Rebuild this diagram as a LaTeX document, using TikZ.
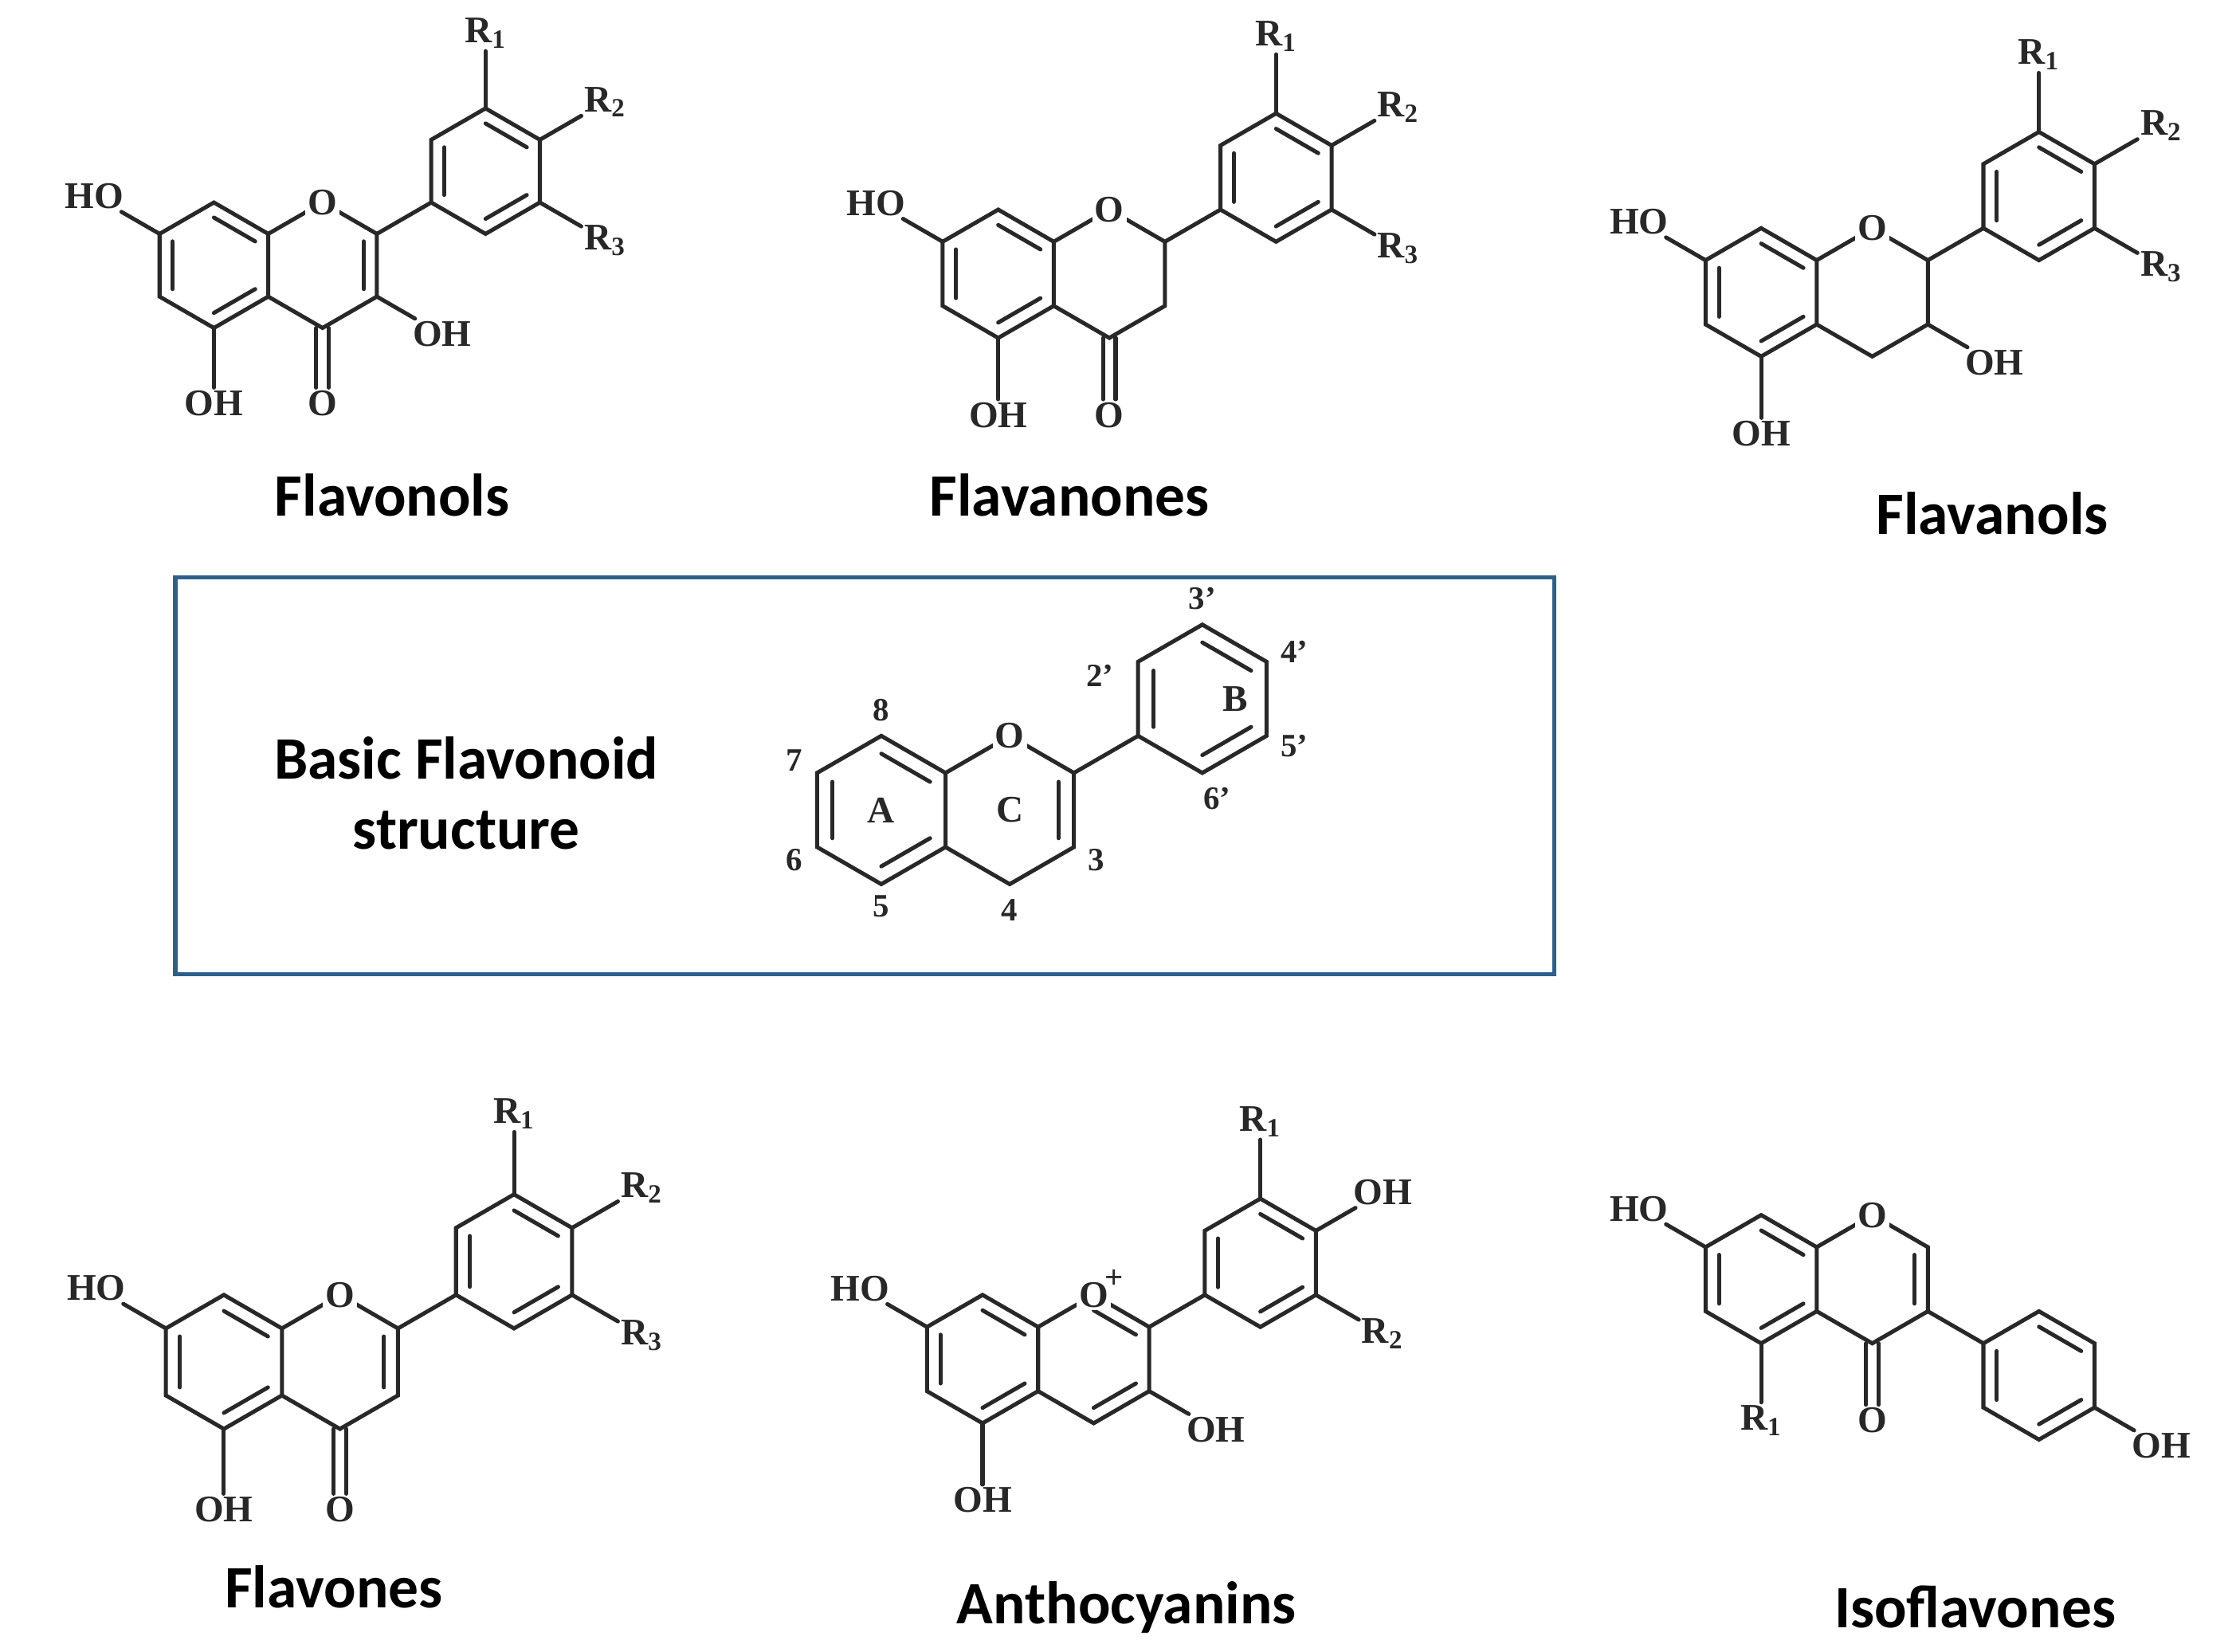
\documentclass[tikz,border=0pt]{standalone}
\usepackage{fontspec}
\setmainfont{Liberation Serif}
\newfontfamily\titlef{Carlito}
\usetikzlibrary{calc}
\definecolor{boxc}{RGB}{46,95,140}
\definecolor{ink}{RGB}{40,40,40}
\tikzset{
  bond/.style={line width=1.6pt, line cap=round, draw=ink},
  atom/.style={font=\fontsize{15}{17}\selectfont\bfseries, text=ink, inner sep=1pt},
  num/.style={font=\fontsize{13}{15}\selectfont\bfseries, text=ink, inner sep=1pt},
  title/.style={font=\fontsize{24}{28}\selectfont\titlef\bfseries, align=center}
}
\newcommand\inn[3]{\draw[bond] ($(#1)!0.76!(#2)$) -- ($(#1)!0.76!(#3)$);}
\newcommand\ringcoords{%
  \coordinate (A) at (0,0); \coordinate (C) at (1.732,0);
  \coordinate (a1) at (0,1); \coordinate (a2) at (0.866,0.5);
  \coordinate (a3) at (0.866,-0.5); \coordinate (a4) at (0,-1);
  \coordinate (a5) at (-0.866,-0.5); \coordinate (a6) at (-0.866,0.5);
  \coordinate (c1) at (1.732,1); \coordinate (c2) at (2.598,0.5);
  \coordinate (c3) at (2.598,-0.5); \coordinate (c4) at (1.732,-1);}
\newcommand\Bcoords[2]{%
  \coordinate (B) at (#1,#2);
  \coordinate (b1) at ($(B)+(90:1)$); \coordinate (b2) at ($(B)+(30:1)$);
  \coordinate (b3) at ($(B)+(-30:1)$); \coordinate (b4) at ($(B)+(-90:1)$);
  \coordinate (b5) at ($(B)+(-150:1)$); \coordinate (b6) at ($(B)+(150:1)$);}
\newcommand\skel{%
  \draw[bond] (a1)--(a2)--(a3)--(a4)--(a5)--(a6)--cycle;
  \draw[bond] (a2)--(c1)--(c2)--(c3)--(c4)--(a3);
  \inn{A}{a5}{a6}\inn{A}{a1}{a2}\inn{A}{a3}{a4}}
\newcommand\hexB{%
  \draw[bond] (b1)--(b2)--(b3)--(b4)--(b5)--(b6)--cycle;
  \inn{B}{b5}{b6}\inn{B}{b1}{b2}\inn{B}{b3}{b4}}
\newcommand\sub[4]{\node[atom] (#1) at ($(#2)+(#3:1.2)$) {#4}; \draw[bond] (#2) -- (#1);}
\newcommand\carbonyl{%
  \node[atom] (o4) at ($(c4)+(0,-1.2)$) {O};
  \draw[bond] ([xshift=-2.5pt]c4) -- ([xshift=-2.5pt]o4.north);
  \draw[bond] ([xshift=2.5pt]c4) -- ([xshift=2.5pt]o4.north);}
\newcommand\ringO{\node[atom, fill=white] (O) at (c1) {O};}
\newcommand\Rthree{%
  \sub{r1}{b1}{90}{R\textsubscript{1}}
  \sub{r2}{b2}{30}{R\textsubscript{2}}
  \sub{r3}{b3}{-30}{R\textsubscript{3}}}
\begin{document}
\begin{tikzpicture}[x=0.02cm, y=0.02cm]
\useasboundingbox[fill=white] (0,0) rectangle (1568,1158);

% Flavonols
\begin{scope}[shift={(150,972)}, x=0.88cm, y=0.88cm]
  \ringcoords \Bcoords{4.330}{1.5}
  \skel \hexB \draw[bond] (c2)--(b5); \inn{C}{c2}{c3}
  \sub{ho}{a6}{150}{HO} \sub{oh}{a4}{-90}{OH} \sub{ohc}{c3}{-30}{OH}
  \carbonyl \Rthree \ringO
\end{scope}
\node[title] (t1) at (275,811) {Flavonols};

% Flavanones
\begin{scope}[shift={(700,966)}, x=0.9cm, y=0.9cm]
  \ringcoords \Bcoords{4.330}{1.5}
  \skel \hexB \draw[bond] (c2)--(b5);
  \sub{ho}{a6}{150}{HO} \sub{oh}{a4}{-90}{OH}
  \carbonyl \Rthree \ringO
\end{scope}
\node[title] (t2) at (750,811) {Flavanones};

% Flavanols
\begin{scope}[shift={(1235,953)}, x=0.9cm, y=0.9cm]
  \ringcoords \Bcoords{4.330}{1.5}
  \skel \hexB \draw[bond] (c2)--(b5);
  \sub{ho}{a6}{150}{HO} \sub{oh}{a4}{-90}{OH} \sub{ohc}{c3}{-30}{OH}
  \Rthree \ringO
\end{scope}
\node[title] (t3) at (1397,798) {Flavanols};

% Basic structure box
\draw[boxc, line width=1.7pt] (123,475) rectangle (1090,753);
\node[title] (t4) at (327,602) {Basic Flavonoid\\structure};
\begin{scope}[shift={(618,590)}, x=1.04cm, y=1.04cm]
  \ringcoords \Bcoords{4.330}{1.5}
  \skel \hexB \draw[bond] (c2)--(b5); \inn{C}{c2}{c3}
  \ringO
  \node[atom] (lA) at (A) {A}; \node[atom] (lC) at (C) {C}; \node[atom] (lB) at ($(B)+(0.45,0)$) {B};
  \node[num] (n8) at ($(a1)+(90:0.35)$) {8};
  \node[num] (n7) at ($(a6)+(150:0.35)$) {7};
  \node[num] (n6) at ($(a5)+(-150:0.35)$) {6};
  \node[num] (n5) at ($(a4)+(-90:0.3)$) {5};
  \node[num] (n4) at ($(c4)+(-90:0.35)$) {4};
  \node[num] (n3) at ($(c3)+(-30:0.35)$) {3};
  \node[num] (n2p) at ($(b6)+(-160:0.55)$) {2'};
  \node[num] (n3p) at ($(b1)+(90:0.35)$) {3'};
  \node[num] (n4p) at ($(b2)+(20:0.4)$) {4'};
  \node[num] (n5p) at ($(b3)+(-20:0.4)$) {5'};
  \node[num] (n6p) at ($(b4)+(-60:0.4)$) {6'};
\end{scope}

% Flavones
\begin{scope}[shift={(157,203)}, x=0.94cm, y=0.94cm]
  \ringcoords \Bcoords{4.330}{1.5}
  \skel \hexB \draw[bond] (c2)--(b5); \inn{C}{c2}{c3}
  \sub{ho}{a6}{150}{HO} \sub{oh}{a4}{-90}{OH}
  \carbonyl \Rthree \ringO
\end{scope}
\node[title] (t5) at (234,45) {Flavones};

% Anthocyanins
\begin{scope}[shift={(689,205)}, x=0.9cm, y=0.9cm]
  \ringcoords \Bcoords{4.330}{1.5}
  \skel \hexB \draw[bond] (c2)--(b5); \inn{C}{c1}{c2} \inn{C}{c3}{c4}
  \sub{ho}{a6}{150}{HO} \sub{oh}{a4}{-90}{OH} \sub{ohc}{c3}{-30}{OH}
  \sub{r1}{b1}{90}{R\textsubscript{1}}
  \sub{ohb}{b2}{30}{OH}
  \sub{r2}{b3}{-30}{R\textsubscript{2}}
  \node[atom, fill=white] (O) at (c1) {O};
  \node[num] (plus) at ($(O.north east)+(0.05,0)$) {+};
\end{scope}
\node[title] (t6) at (790,31) {Anthocyanins};

% Isoflavones
\begin{scope}[shift={(1235,261)}, x=0.9cm, y=0.9cm]
  \ringcoords \Bcoords{4.330}{-1.5}
  \skel \hexB \draw[bond] (c3)--(b6); \inn{C}{c2}{c3}
  \sub{ho}{a6}{150}{HO} \sub{r1}{a4}{-90}{R\textsubscript{1}}
  \sub{ohb}{b3}{-30}{OH}
  \carbonyl \ringO
\end{scope}
\node[title] (t7) at (1385,31) {Isoflavones};
\end{tikzpicture}
\end{document}
